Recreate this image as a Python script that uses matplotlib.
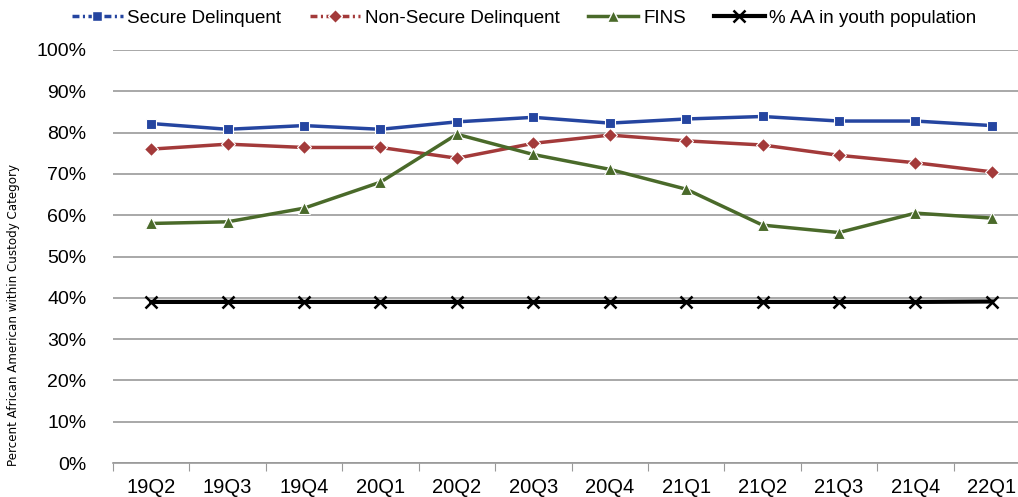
import matplotlib
matplotlib.use("Agg")
import matplotlib.pyplot as plt
from matplotlib.lines import Line2D

plt.rcParams['font.family'] = ['Liberation Sans', 'DejaVu Sans']

quarters = ['19Q2', '19Q3', '19Q4', '20Q1', '20Q2', '20Q3',
            '20Q4', '21Q1', '21Q2', '21Q3', '21Q4', '22Q1']
secure = [82.2, 80.8, 81.7, 80.8, 82.6, 83.7, 82.3, 83.3, 83.9, 82.8, 82.8, 81.7]
non_secure = [76.0, 77.2, 76.4, 76.4, 73.8, 77.4, 79.4, 78.0, 77.0, 74.5, 72.7, 70.5]
fins = [58.0, 58.4, 61.7, 68.0, 79.6, 74.7, 71.1, 66.3, 57.6, 55.8, 60.5, 59.3]
aa_youth = [39.0, 39.0, 39.0, 39.0, 39.0, 39.0, 39.0, 39.0, 39.0, 39.0, 39.0, 39.1]

blue = '#2545A0'
red = '#A33A3A'
green = '#4A6A2A'

fig = plt.figure(figsize=(10.18, 4.97), dpi=100)
ax = fig.add_axes([113 / 1018, 34 / 497, 917 / 1018, 413 / 497])

x = range(len(quarters))
ax.plot(x, secure, color=blue, lw=2.5, marker='s', ms=7, mec='white', mew=0.8, zorder=4)
ax.plot(x, non_secure, color=red, lw=2.5, marker='D', ms=7, mec='white', mew=0.8, zorder=4)
ax.plot(x, fins, color=green, lw=2.5, marker='^', ms=9, mec='white', mew=0.8, zorder=4)
ax.plot(x, aa_youth, color='black', lw=3, marker='x', ms=8, mew=1.8, zorder=4)

ax.set_xlim(-0.5, len(quarters) - 0.5)
ax.set_ylim(0, 100)
ax.set_yticks(range(0, 101, 10))
ax.set_yticklabels([f'{v}%' for v in range(0, 101, 10)], fontsize=14)
ax.yaxis.grid(True, color='#999999', lw=1.2)
ax.set_axisbelow(True)
ax.tick_params(axis='y', length=0, pad=19)

ax.set_xticks([i - 0.5 for i in range(len(quarters) + 1)])
ax.set_xticklabels([])
ax.set_xticks(list(x), minor=True)
ax.set_xticklabels(quarters, minor=True, fontsize=14.5)
ax.tick_params(axis='x', which='major', length=6, color='#999999')
ax.tick_params(axis='x', which='minor', length=0, pad=11)

for s in ['top', 'right', 'left']:
    ax.spines[s].set_visible(False)
ax.spines['bottom'].set_color('#999999')
ax.spines['bottom'].set_linewidth(1.2)

fig.text(14 / 1018, 0.366, 'Percent African American within Custody Category',
         rotation=90, ha='center', va='center', fontsize=8.6, family='DejaVu Sans')

handles = [
    Line2D([], [], color=blue, lw=2.5, dashes=(2, 1, 0.6, 1), marker='s', ms=7, mec='white'),
    Line2D([], [], color=red, lw=2.5, dashes=(2, 1, 0.6, 1), marker='D', ms=7, mec='white'),
    Line2D([], [], color=green, lw=2.5, marker='^', ms=9, mec='white'),
    Line2D([], [], color='black', lw=3, marker='x', ms=8, mew=1.8),
]
labels = ['Secure Delinquent', 'Non-Secure Delinquent', 'FINS', '% AA in youth population']
fig.legend(handles, labels, loc='upper center', bbox_to_anchor=(0.515, 1.015), ncol=4,
           frameon=False, fontsize=13.5, handlelength=2.7, handletextpad=0.25,
           columnspacing=1.5)

fig.savefig('out.png', dpi=100)
